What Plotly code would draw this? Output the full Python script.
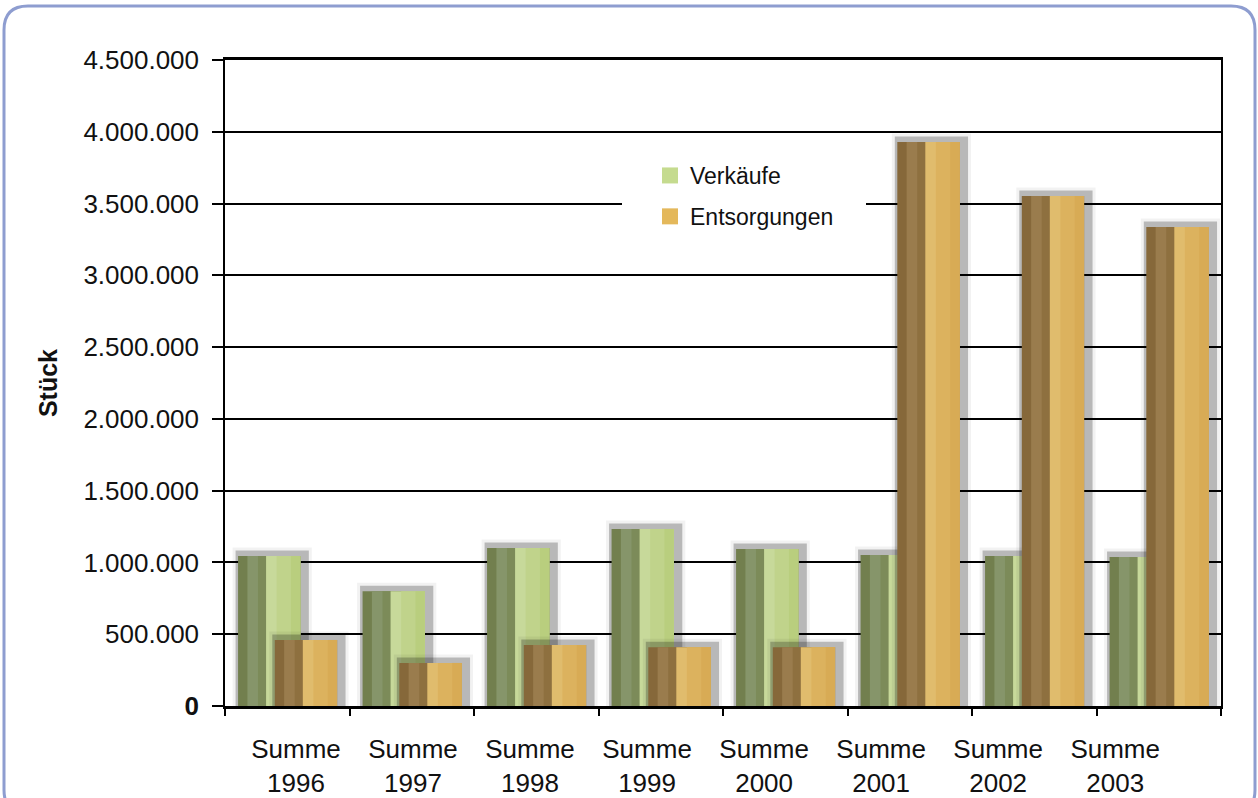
import plotly.graph_objects as go

# ---- data -------------------------------------------------------------
categories = ["Summe 1996", "Summe 1997", "Summe 1998", "Summe 1999",
              "Summe 2000", "Summe 2001", "Summe 2002", "Summe 2003"]
verkaeufe = [1045000, 800000, 1100000, 1233000, 1094000, 1052000, 1045000, 1038000]
entsorgungen = [460000, 300000, 425000, 410000, 410000, 3929000, 3553000, 3337000]
y_ticks = [0, 500000, 1000000, 1500000, 2000000, 2500000, 3000000, 3500000, 4000000, 4500000]

# ---- styling ----------------------------------------------------------
W, H = 1258, 798
ML, MR, MT, MB = 225, 37, 60, 92
PW, PH = W - ML - MR, H - MT - MB
FONT = "Liberation Sans"
TXT = "#111111"

BAR_W = 0.5
SERIES = [
    # name, values, offset, shading bands (fraction start, colour), legend colour
    ("Verkäufe", verkaeufe, -0.395,
     [(0.00, "#727f4e"), (0.15, "#86956a"), (0.32, "#7c8b59"),
      (0.45, "#c7d99a"), (0.62, "#c0d38b"), (0.85, "#b9ce7e")],
     "#c5db8f"),
    ("Entsorgungen", entsorgungen, -0.100,
     [(0.00, "#86683a"), (0.15, "#9a7c4d"), (0.32, "#8e703f"),
      (0.45, "#e0bc6d"), (0.62, "#dcb25e"), (0.85, "#d8ab55")],
     "#e4b85b"),
]

x_idx = list(range(len(categories)))
tick_text = [c.replace(" ", "<br>") for c in categories]
LABEL_START, LABEL_STEP = 0.07, 0.94
label_pos = [LABEL_START + LABEL_STEP * i for i in x_idx]

fig = go.Figure()

for name, vals, off, bands, leg_col in SERIES:
    # soft drop shadow behind the bar
    shift = 3 / (PW / len(categories))
    for lw, col in ((17, "rgba(0,0,0,0.05)"), (11, "rgba(0,0,0,0.24)")):
        fig.add_trace(go.Bar(
            x=x_idx, y=vals, offset=off + shift, width=BAR_W,
            marker=dict(color="rgba(0,0,0,0)", line=dict(color=col, width=lw)),
            showlegend=False, hoverinfo="skip"))
    # shaded bar body: each band runs to the right edge, later bands cover earlier ones
    for f0, col in bands:
        fig.add_trace(go.Bar(
            x=x_idx, y=vals, offset=off + f0 * BAR_W, width=(1 - f0) * BAR_W,
            marker=dict(color=col, line=dict(width=0)),
            name=name, showlegend=False, hoverinfo="skip"))
    # legend entry
    fig.add_trace(go.Scatter(
        x=[None], y=[None], mode="markers", name=name,
        marker=dict(symbol="square", size=16, color=leg_col),
        legendgroup=name, showlegend=True))


def px_x(px):
    return (px - ML) / PW


def px_y(py):
    return (MT + PH - py) / PH


# rounded page frame
x0, x1, y0, y1, r = 4, 1255, 6, 814, 24
path = (f"M {px_x(x0 + r)},{px_y(y0)} L {px_x(x1 - r)},{px_y(y0)} "
        f"Q {px_x(x1)},{px_y(y0)} {px_x(x1)},{px_y(y0 + r)} "
        f"L {px_x(x1)},{px_y(y1 - r)} Q {px_x(x1)},{px_y(y1)} {px_x(x1 - r)},{px_y(y1)} "
        f"L {px_x(x0 + r)},{px_y(y1)} Q {px_x(x0)},{px_y(y1)} {px_x(x0)},{px_y(y1 - r)} "
        f"L {px_x(x0)},{px_y(y0 + r)} Q {px_x(x0)},{px_y(y0)} {px_x(x0 + r)},{px_y(y0)} Z")
fig.add_shape(type="path", path=path, xref="paper", yref="paper",
              line=dict(color="#8e9dd0", width=3), layer="above")

# white panel behind the legend covering the gridline
fig.add_shape(type="rect", xref="paper", yref="paper",
              x0=px_x(622), x1=px_x(866), y0=px_y(232), y1=px_y(152),
              fillcolor="white", line=dict(width=0), layer="above")

y_text = [f"{v:,}".replace(",", ".") for v in y_ticks]
y_text[0] = "<b>0</b>"

fig.update_layout(
    width=W, height=H,
    margin=dict(l=ML, r=MR, t=MT, b=MB, autoexpand=False),
    paper_bgcolor="white", plot_bgcolor="white",
    barmode="overlay",
    font=dict(family=FONT, color=TXT),
    showlegend=True,
    legend=dict(x=px_x(650), y=px_y(154), xanchor="left", yanchor="top",
                bgcolor="rgba(255,255,255,0)", font=dict(size=23, color=TXT),
                traceorder="grouped", tracegroupgap=8),
    xaxis=dict(range=[-0.5, len(categories) - 0.5], showgrid=False, zeroline=False,
               showline=True, linecolor="black", linewidth=3, mirror=True,
               tickvals=label_pos, ticktext=tick_text, ticks="", automargin=False,
               tickfont=dict(size=26, color=TXT), ticklabelstandoff=18,
               minor=dict(tick0=-0.5, dtick=1, ticks="outside", ticklen=7,
                          tickwidth=2, tickcolor="black", showgrid=False)),
    yaxis=dict(range=[0, 4500000], tickvals=y_ticks, ticktext=y_text,
               showgrid=True, gridcolor="black", gridwidth=2, zeroline=False,
               showline=True, linecolor="black", linewidth=1.5, mirror=True,
               ticks="outside", ticklen=11, tickwidth=2, tickcolor="black",
               tickfont=dict(size=26, color=TXT), ticklabelstandoff=8, automargin=False,
               title=dict(text="<b>Stück</b>", font=dict(size=25, color=TXT),
                          standoff=19)),
)

fig.write_html("out.html")
